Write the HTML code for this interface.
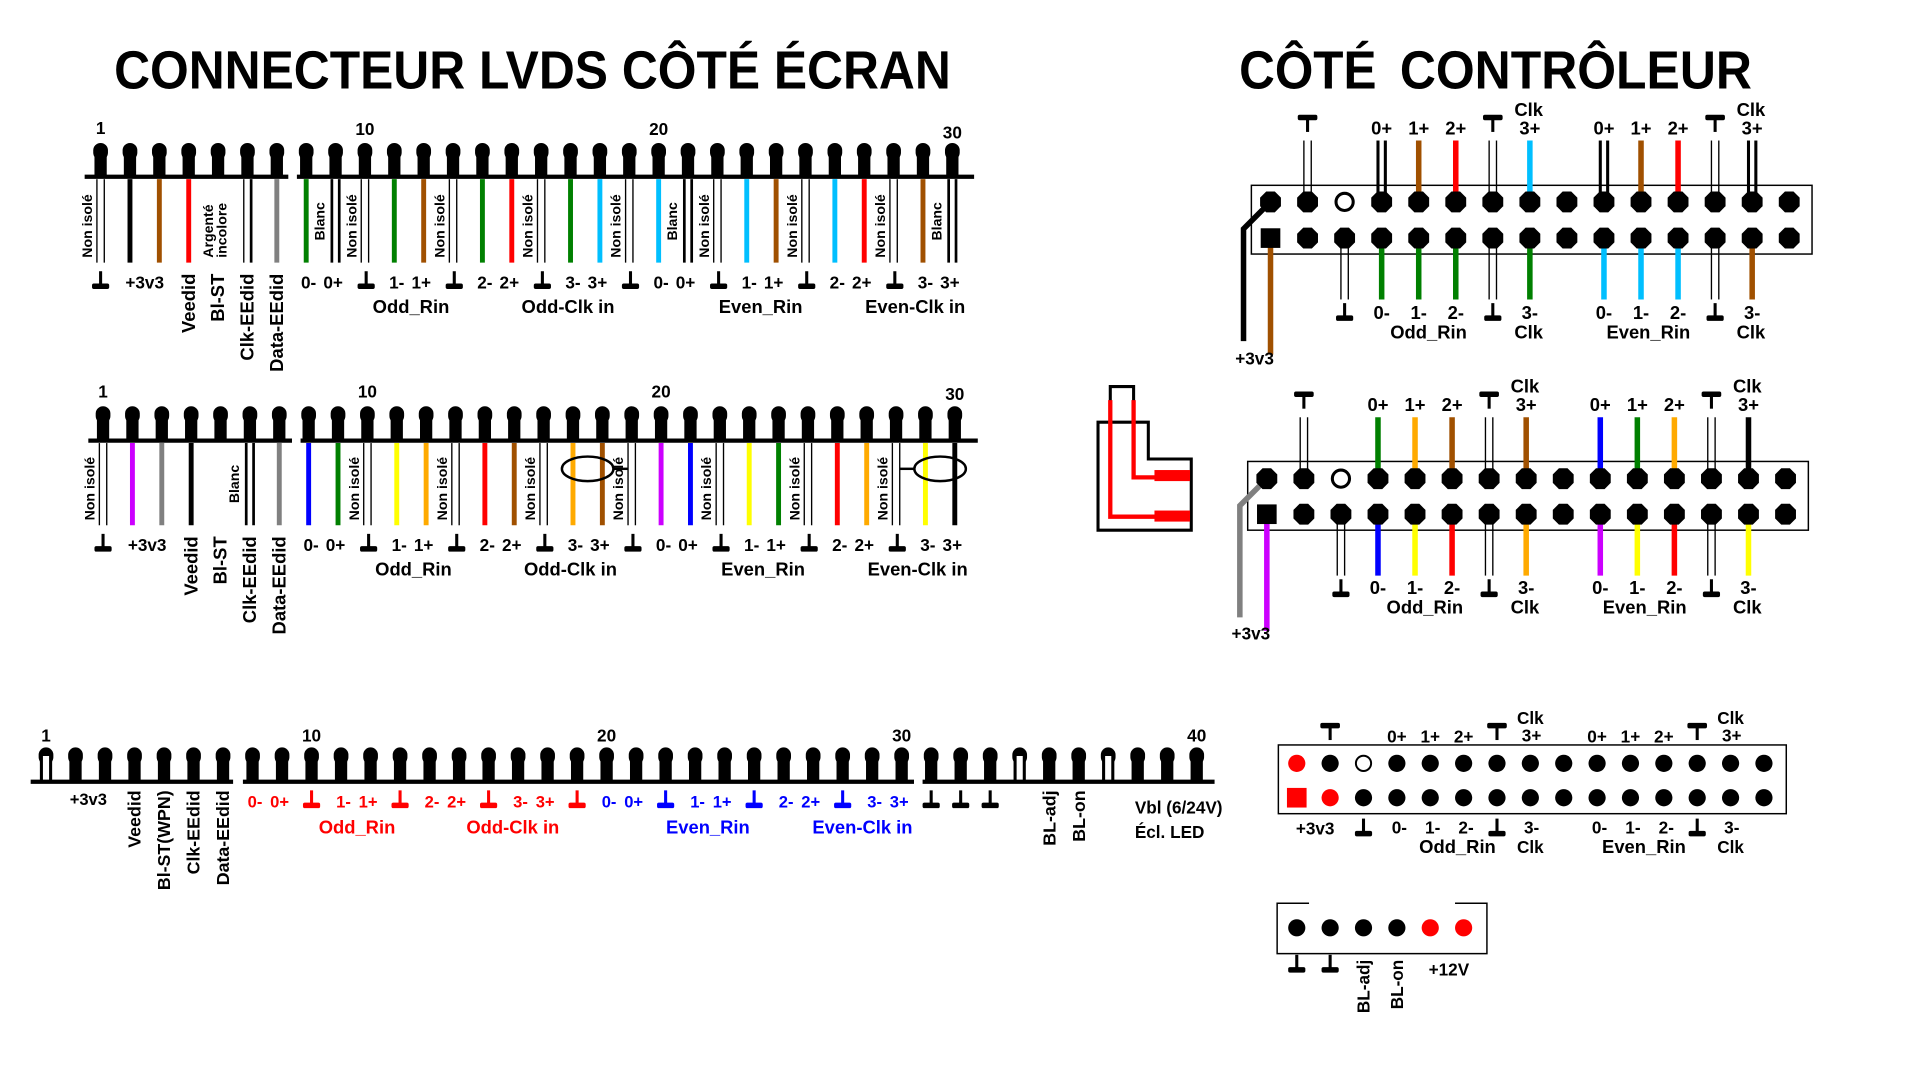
<!DOCTYPE html>
<html><head><meta charset="utf-8"><style>
html,body{margin:0;padding:0;background:#fff;width:1920px;height:1080px;overflow:hidden}
svg{display:block}
text{font-family:"Liberation Sans",Arial,sans-serif;font-weight:bold}
</style></head><body>
<svg id="s" xmlns="http://www.w3.org/2000/svg" width="1920" height="1080" viewBox="0 0 1565 880" preserveAspectRatio="none">
<rect width="1565" height="880" fill="#fff"/>
<text x="93" y="72" font-size="44" textLength="682" lengthAdjust="spacingAndGlyphs">CONNECTEUR LVDS CÔTÉ ÉCRAN</text>
<text x="1010" y="72" font-size="44" textLength="112" lengthAdjust="spacingAndGlyphs">CÔTÉ</text>
<text x="1141" y="72" font-size="44" textLength="287" lengthAdjust="spacingAndGlyphs">CONTRÔLEUR</text>
<path d="M905,343 V315 H924 V343" fill="none" stroke="#000" stroke-width="2.5"/>
<path d="M895,344 H936 V374 H971 V432 H895 Z" fill="none" stroke="#000" stroke-width="2.5"/>
<path d="M905,326 V421 H945 M924,326 V389 H945" fill="none" stroke="#f00" stroke-width="3.5"/>
<rect x="941" y="383" width="29" height="9" fill="#f00"/>
<rect x="941" y="416" width="29" height="9" fill="#f00"/>
<g id="g"></g>
</svg>
<script>
var NS="http://www.w3.org/2000/svg",G=document.getElementById("g");
function el(t,a,txt){var e=document.createElementNS(NS,t);for(var k in a)e.setAttribute(k,a[k]);if(txt!=null)e.textContent=txt;G.appendChild(e);return e;}
var C={g:"#008000",br:"#a05000",r:"#ff0000",c:"#00bfff",gy:"#808080",m:"#cc00ff",b:"#0000ff",y:"#ffff00",o:"#ffaa00",k:"#000"};
function T(x,y,s,fs,opt){opt=opt||{};var a={x:x,y:y,"font-size":fs,"text-anchor":opt.a||"middle",fill:opt.c||"#000"};
 if(opt.w==="n")a["font-weight"]="normal";
 if(opt.r){a.transform="rotate(-90 "+x+" "+y+")";}
 if(opt.L){a.textLength=opt.L;a.lengthAdjust="spacingAndGlyphs";}
 return el("text",a,s);}
function pin(x,yt,yb,hollow){el("rect",{x:x-6,y:yt,width:12,height:14,rx:6,fill:"#000"});el("rect",{x:x-5,y:yt+6,width:10,height:yb-yt-6,fill:"#000"});
 if(hollow)el("rect",{x:x-2.5,y:yt+7,width:5,height:yb-yt-7,fill:"#fff"});}
function line(x1,y1,x2,y2,c,w){el("line",{x1:x1,y1:y1,x2:x2,y2:y2,stroke:c,"stroke-width":w});}
function gnd(x,y,c){c=c||"#000";line(x,y,x,y+11,c,2.5);el("rect",{x:x-7,y:y+10,width:14,height:4.5,rx:1.5,fill:c});}
function tee(x,y){el("rect",{x:x-8,y:y,width:16,height:4.5,rx:1.5,fill:"#000"});line(x,y+3,x,y+14,"#000",2.5);}
function lvds(x0,yt,yb,y2,wires,bar,ny,ly,gy,rot){
 var sp=23.94;
 for(var i=0;i<30;i++){pin(x0+i*sp,yt,yb);}
 line(bar[0],yb+1,bar[1],yb+1,"#000",3.5);line(bar[2],yb+1,bar[3],yb+1,"#000",3.5);
 var nn=[[1,"1"],[10,"10"],[20,"20"],[30,"30"]];
 nn.forEach(function(n,j){T(x0+(n[0]-1)*sp,ny[j],n[1],14,{});});
 var wy1=yb+3,wy2=y2;
 wires.forEach(function(w,i){var x=x0+i*sp;
  if(w==="n"||w==="d"){line(x-3,wy1,x-3,wy2,"#000",1.1);line(x+3,wy1,x+3,wy2,"#000",1.1);
    if(w==="n")T(x-7,wy2-4,"Non isolé",11.5,{a:"start",r:1});}
  else if(w==="w"){line(x-3,wy1,x-3,wy2,"#000",2.2);line(x+3,wy1,x+3,wy2,"#000",2.2);T(x-9,wy2-18,"Blanc",11.5,{a:"start",r:1});}
  else if(w==="a"){T(x-4,wy2-4,"Argenté",11.5,{a:"start",r:1});T(x+7,wy2-4,"incolore",11.5,{a:"start",r:1});}
  else if(w==="wb"){line(x-3,wy1,x-3,wy2,"#000",1.1);line(x+3,wy1,x+3,wy2,"#000",2.2);}
  else if(w){line(x,wy1,x,wy2,C[w],4);}
 });
 var lab={8:"0-",9:"0+",11:"1-",12:"1+",14:"2-",15:"2+",17:"3-",18:"3+",20:"0-",21:"0+",23:"1-",24:"1+",26:"2-",27:"2+",29:"3-",30:"3+"};
 [1,10,13,16,19,22,25,28].forEach(function(p){gnd(x0+(p-1)*sp+(p==1?0:1),ly-14);});
 for(var p in lab)T(x0+(p-1)*sp+(p%3==0?-2:2),ly,lab[p],14,{});
 T(x0+sp+12,ly,"+3v3",14,{});
 rot.forEach(function(r){T(x0+(r[0]-1)*sp+5,ly-12,r[1],15,{a:"end",r:1});});
 T(x0+253,gy,"Odd_Rin",15,{});T(x0+381,gy,"Odd-Clk in",15,{});T(x0+538,gy,"Even_Rin",15,{});T(x0+664,gy,"Even-Clk in",15,{});
}
lvds(82,116.5,143,214,
 ["n","k","br","r","a","wb","gy","g","w","n","g","br","n","g","r","n","g","c","n","c","w","n","c","br","n","c","r","n","br","w"],
 [69,235,242,794],[109,110,110,113],235,255,
 [[4,"Veedid"],[5,"Bl-ST"],[6,"Clk-EEdid"],[7,"Data-EEdid"]]);
lvds(84,331,358,428,
 ["n","m","gy","k","","w","gy","b","g","n","y","o","n","r","br","n","o","br","n","m","b","n","y","g","n","r","o","n","y","k"],
 [72,238,245,797],[324,324,324,326],449,469,
 [[4,"Veedid"],[5,"Bl-ST"],[6,"Clk-EEdid"],[7,"Data-EEdid"]]);
el("ellipse",{cx:84+16.5*23.94,cy:382,rx:21,ry:10,fill:"none",stroke:"#000","stroke-width":2});
line(84+16.5*23.94+21,382,84+18*23.94-3,382,"#000",2);
el("ellipse",{cx:84+28.5*23.94,cy:382,rx:21,ry:10,fill:"none",stroke:"#000","stroke-width":2});
line(84+28.5*23.94-21,382,84+27*23.94+3,382,"#000",2);

(function(){var x0=37.5,sp=24.05,yt=609,yb=636;
 for(var i=0;i<40;i++)pin(x0+i*sp,yt,yb,(i==0||i==33||i==36));
 line(25,yb+1,190,yb+1,"#000",3.5);line(198,yb+1,745,yb+1,"#000",3.5);line(752,yb+1,990,yb+1,"#000",3.5);
 [[1,"1"],[10,"10"],[20,"20"],[30,"30"],[40,"40"]].forEach(function(n){T(x0+(n[0]-1)*sp,604,n[1],14,{});});
 var ly=658,R="#ff0000",B="#0000ff";
 var lab={8:"0-",9:"0+",11:"1-",12:"1+",14:"2-",15:"2+",17:"3-",18:"3+",20:"0-",21:"0+",23:"1-",24:"1+",26:"2-",27:"2+",29:"3-",30:"3+"};
 for(var p in lab)T(x0+(p-1)*sp+(p%3==0?-2:2),ly,lab[p],13.5,{c:p<20?R:B});
 [10,13,16,19].forEach(function(p){gnd(x0+(p-1)*sp,ly-14,R);});
 [22,25,28].forEach(function(p){gnd(x0+(p-1)*sp,ly-14,B);});
 [31,32,33].forEach(function(p){gnd(x0+(p-1)*sp,ly-14);});
 T(72,ly-2,"+3v3",13.5,{});
 [[4,"Veedid"],[5,"Bl-ST(WPN)"],[6,"Clk-EEdid"],[7,"Data-EEdid"],[35,"BL-adj"],[36,"BL-on"]].forEach(function(r){T(x0+(r[0]-1)*sp+5,644,r[1],14.5,{a:"end",r:1});});
 T(925,663,"Vbl (6/24V)",14,{a:"start"});T(925,683,"Écl. LED",14,{a:"start"});
 T(291,679,"Odd_Rin",15,{c:R});T(418,679,"Odd-Clk in",15,{c:R});T(577,679,"Even_Rin",15,{c:B});T(703,679,"Even-Clk in",15,{c:B});
})();

function ctrl(bx,by,c1,sp,r1,r2,top,bot,ly,cfg){
 el("rect",{x:bx,y:by,width:457,height:56,fill:"none",stroke:"#000","stroke-width":1.2});
 function X(k){return c1+(k-1)*sp;}
 function wire(k,w,y1,y2){var x=X(k);
  if(w==="d"){line(x-3,y1,x-3,y2,"#000",1.1);line(x+3,y1,x+3,y2,"#000",1.1);}
  else if(w==="dk"){line(x-3,y1,x-3,y2,"#000",2.5);line(x+3,y1,x+3,y2,"#000",2.5);}
  else line(x,y1,x,y2,C[w],4.5);}
 for(var k in top)wire(k,top[k],r1-50,r1);
 for(var k in bot)wire(k,bot[k],r2,r2+50);
 line(X(1),r2,X(1),r2+95,C[cfg.c1],4.5);
 el("polyline",{points:(X(1))+","+r1+" "+(X(1)-22)+","+(r1+22)+" "+(X(1)-22)+","+(r2+84),fill:"none",stroke:cfg.diag,"stroke-width":4.5});
 for(var k=1;k<=15;k++){
  [r1,r2].forEach(function(y,ri){var x=X(k);
   if(ri==1&&k==1)el("rect",{x:x-8,y:y-8,width:16,height:16,fill:"#000"});
   else if(ri==0&&k==3)el("circle",{cx:x,cy:y,r:7,fill:"#fff",stroke:"#000","stroke-width":2.5});
   else el("polygon",{points:[[-3.5,-8.5],[3.5,-8.5],[8.5,-3.5],[8.5,3.5],[3.5,8.5],[-3.5,8.5],[-8.5,3.5],[-8.5,-3.5]].map(function(p){return (x+p[0])+","+(y+p[1]);}).join(" "),fill:"#000"});
  });}
 var ty=r1-55;
 [2,7,13].forEach(function(k){tee(X(k),ty-16);});
 [3,7,13].forEach(function(k){gnd(X(k),r2+53);});
 [[4,"0+"],[5,"1+"],[6,"2+"],[10,"0+"],[11,"1+"],[12,"2+"]].forEach(function(a){T(X(a[0]),ty,a[1],15,{w:"n"});});
 [8,14].forEach(function(k){T(X(k),ty,"3+",15,{w:"n"});T(X(k)-1,ty-15,"Clk",15,{w:"n"});});
 [[4,"0-"],[5,"1-"],[6,"2-"],[10,"0-"],[11,"1-"],[12,"2-"]].forEach(function(a){T(X(a[0]),ly,a[1],15,{w:"n"});});
 [8,14].forEach(function(k){T(X(k),ly,"3-",15,{w:"n"});T(X(k)-1,ly+16,"Clk",15,{w:"n"});});
 T(X(5)+8,ly+16,"Odd_Rin",15,{w:"n"});T(X(11)+6,ly+16,"Even_Rin",15,{w:"n"});
 T(X(1)-13,ly+37,"+3v3",14,{w:"n"});
}
ctrl(1020,151,1035.6,30.2,164.5,194,
 {2:"d",4:"dk",5:"br",6:"r",7:"d",8:"c",10:"dk",11:"br",12:"r",13:"d",14:"dk"},
 {3:"d",4:"g",5:"g",6:"g",7:"d",8:"g",10:"c",11:"c",12:"c",13:"d",14:"br"},260,{c1:"br",diag:"#000"});
ctrl(1017,376,1032.6,30.2,390,419,
 {2:"d",4:"g",5:"o",6:"br",7:"d",8:"br",10:"b",11:"g",12:"o",13:"d",14:"k"},
 {3:"d",4:"b",5:"y",6:"r",7:"d",8:"o",10:"m",11:"y",12:"r",13:"d",14:"y"},484,{c1:"m",diag:"#808080"});

(function(){var c1=1057,sp=27.2,r1=622,r2=650;function X(k){return c1+(k-1)*sp;}
 el("rect",{x:1042,y:607,width:414,height:56,fill:"none",stroke:"#000","stroke-width":1.2});
 for(var k=1;k<=15;k++){[r1,r2].forEach(function(y,ri){var x=X(k);
  if(ri==1&&k==1)el("rect",{x:x-8,y:y-8,width:16,height:16,fill:"#f00"});
  else if(ri==0&&k==3)el("circle",{cx:x,cy:y,r:6.2,fill:"#fff",stroke:"#000","stroke-width":1.6});
  else el("circle",{cx:x,cy:y,r:7,fill:((ri==0&&k==1)||(ri==1&&k==2))?"#f00":"#000"});});}
 [2,7,13].forEach(function(k){tee(X(k),589);});
 [[4,"0+"],[5,"1+"],[6,"2+"],[10,"0+"],[11,"1+"],[12,"2+"]].forEach(function(a){T(X(a[0]),605,a[1],14,{});});
 [8,14].forEach(function(k){T(X(k)+1,604,"3+",14,{});T(X(k),590,"Clk",14,{});});
 [[4,"0-"],[5,"1-"],[6,"2-"],[10,"0-"],[11,"1-"],[12,"2-"]].forEach(function(a){T(X(a[0])+2,679,a[1],14,{});});
 [8,14].forEach(function(k){T(X(k)+1,679,"3-",14,{});T(X(k),695,"Clk",14,{});});
 [3,7,13].forEach(function(k){gnd(X(k),667);});
 T(1072,680,"+3v3",14,{});T(1188,695,"Odd_Rin",15,{});T(1340,695,"Even_Rin",15,{});
})();
(function(){var c1=1057,sp=27.2,y=756;
 el("path",{d:"M1067,736 H1041 V777 H1212 V736 H1186",fill:"none",stroke:"#000","stroke-width":1.2});
 for(var k=0;k<6;k++)el("circle",{cx:c1+k*sp,cy:y,r:7,fill:k>=4?"#f00":"#000"});
 gnd(c1,778);gnd(c1+sp,778);
 T(c1+2*sp+5,782,"BL-adj",14,{a:"end",r:1});T(c1+3*sp+5,782,"BL-on",14,{a:"end",r:1});
 T(1181,795,"+12V",14,{});
})();
</script>
</body></html>
